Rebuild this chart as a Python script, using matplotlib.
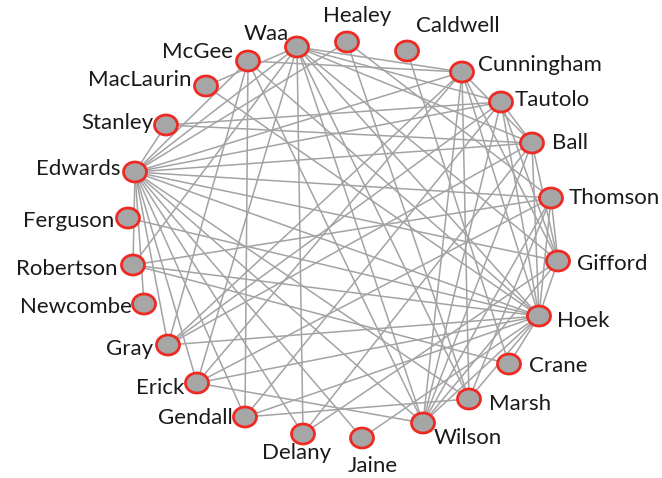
import matplotlib
matplotlib.use('Agg')
import matplotlib.pyplot as plt
from matplotlib.patches import Ellipse

# node name, centre x, centre y (picture pixels)
names = ['Waa', 'Healey', 'Caldwell', 'Cunningham', 'Tautolo', 'Ball', 'Thomson',
         'Gifford', 'Hoek', 'Crane', 'Marsh', 'Wilson', 'Jaine', 'Delany', 'Gendall',
         'Erick', 'Gray', 'Newcombe', 'Robertson', 'Ferguson', 'Edwards', 'Stanley',
         'MacLaurin', 'McGee']
node_x = [297, 347, 407, 462, 501, 532, 551, 558, 539, 509, 469, 423, 362, 303, 245,
          197, 168, 144, 133, 128, 135, 166, 206, 248]
node_y = [47, 42, 51, 72, 102, 143, 198, 261, 316, 364, 399, 423, 438, 434, 417,
          383, 345, 304, 265, 218, 172, 125, 86, 61]

# label anchor: x, y, horizontal alignment
label_x = [289, 357, 416, 478, 515, 552, 569, 577, 557, 529, 489, 434, 373, 297, 233,
           184, 153, 132, 118, 114, 121, 153, 191, 233]
label_y = [34, 16, 26, 65, 100, 143, 198, 264, 321, 366, 404, 438, 466, 453, 418,
           388, 349, 307, 269, 221, 169, 123, 80, 52]
label_ha = ['right', 'center', 'left', 'left', 'left', 'left', 'left', 'left', 'left',
            'left', 'left', 'left', 'center', 'center', 'right', 'right', 'right',
            'right', 'right', 'right', 'right', 'right', 'right', 'right']

edges = [
    ('Edwards', 'Stanley'), ('Edwards', 'McGee'), ('Edwards', 'Waa'), ('Edwards', 'Healey'),
    ('Edwards', 'Cunningham'), ('Edwards', 'Tautolo'), ('Edwards', 'Ball'),
    ('Edwards', 'Thomson'), ('Edwards', 'Gifford'), ('Edwards', 'Hoek'),
    ('Edwards', 'Marsh'), ('Edwards', 'Wilson'), ('Edwards', 'Jaine'),
    ('Edwards', 'Delany'), ('Edwards', 'Gendall'), ('Edwards', 'Erick'),
    ('Edwards', 'Gray'), ('Edwards', 'Newcombe'), ('Edwards', 'Robertson'),
    ('Hoek', 'Waa'), ('Hoek', 'McGee'), ('Hoek', 'MacLaurin'), ('Hoek', 'Ferguson'),
    ('Hoek', 'Robertson'), ('Hoek', 'Gray'), ('Hoek', 'Erick'), ('Hoek', 'Gendall'),
    ('Hoek', 'Jaine'), ('Hoek', 'Wilson'), ('Hoek', 'Marsh'), ('Hoek', 'Crane'),
    ('Hoek', 'Gifford'), ('Hoek', 'Thomson'), ('Hoek', 'Ball'), ('Hoek', 'Tautolo'),
    ('Hoek', 'Cunningham'),
    ('Waa', 'Cunningham'), ('Waa', 'Tautolo'), ('Waa', 'Ball'), ('Waa', 'Gifford'),
    ('Waa', 'Marsh'), ('Waa', 'Wilson'), ('Waa', 'Robertson'), ('Waa', 'Erick'),
    ('Waa', 'Delany'), ('Waa', 'MacLaurin'),
    ('McGee', 'Gendall'), ('McGee', 'Wilson'), ('McGee', 'Cunningham'), ('McGee', 'Gray'),
    ('Cunningham', 'Gray'), ('Cunningham', 'Erick'), ('Cunningham', 'Wilson'),
    ('Cunningham', 'Marsh'), ('Cunningham', 'Gifford'), ('Cunningham', 'Ball'),
    ('Tautolo', 'Stanley'), ('Tautolo', 'Gray'), ('Tautolo', 'Gendall'),
    ('Tautolo', 'Wilson'), ('Tautolo', 'Gifford'), ('Tautolo', 'Ball'),
    ('Ball', 'Stanley'), ('Ball', 'Gray'), ('Ball', 'Delany'), ('Ball', 'Wilson'),
    ('Ball', 'Gifford'),
    ('Thomson', 'Healey'), ('Thomson', 'Robertson'), ('Thomson', 'Erick'),
    ('Thomson', 'Wilson'), ('Thomson', 'Marsh'), ('Thomson', 'Gifford'),
    ('Gifford', 'Delany'), ('Gifford', 'Wilson'),
    ('Healey', 'Marsh'), ('Caldwell', 'Crane'),
    ('Robertson', 'Crane'), ('Gendall', 'Marsh'),
    ('Wilson', 'Erick'),
]

fig = plt.figure(figsize=(6.62, 4.78), dpi=100)
ax = fig.add_axes([0, 0, 1, 1])
ax.set_xlim(0, 662)
ax.set_ylim(478, 0)
ax.set_aspect('equal')
ax.axis('off')

idx = {n: i for i, n in enumerate(names)}
for a, b in edges:
    i, j = idx[a], idx[b]
    ax.plot([node_x[i], node_x[j]], [node_y[i], node_y[j]], color='#a3a3a3',
            lw=1.1, zorder=1, solid_capstyle='round')

for i, n in enumerate(names):
    ax.add_patch(Ellipse((node_x[i], node_y[i]), 23, 20, facecolor='#a6a6a6',
                         edgecolor='#ee2a22', lw=2.0, zorder=3))
    ax.text(label_x[i], label_y[i], n, ha=label_ha[i], va='center',
            fontsize=16, family='Lato', color='#1a1a1a', zorder=4)

fig.savefig('out.png', dpi=100)
